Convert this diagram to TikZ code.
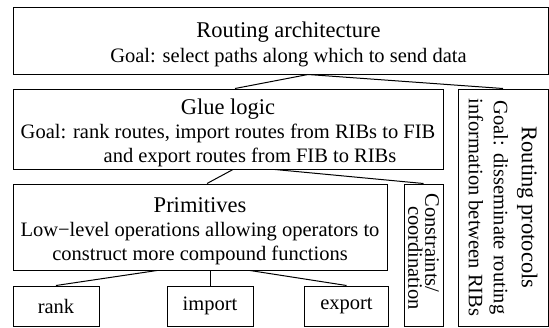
\documentclass[tikz,border=0pt]{standalone}
\usepackage{fontspec}
\setmainfont{Liberation Serif}
\newcommand{\ttl}[1]{{\fontsize{22.5}{24}\selectfont #1}}
\tikzset{
  box/.style={draw, line width=1pt, inner sep=0pt},
  txt/.style={inner sep=0pt, align=center, font=\fontsize{20.5}{24}\selectfont},
  vtext/.style={rotate=-90, inner sep=0pt, align=center, font=\fontsize{20.5}{25}\selectfont},
  link/.style={line width=1pt}
}
\begin{document}
\begin{tikzpicture}[x=1pt,y=-1pt]
\useasboundingbox (0,0) rectangle (549,327);
\node[box, minimum width=535pt, minimum height=67pt] (arch) at (280.5,40.5) {};
\node[txt] (archt) at ([yshift=-4pt]arch.center)
  {\hspace*{16pt}\ttl{Routing architecture}\\[1pt]\hspace*{16pt}Goal: select paths along which to send data};
\node[box, minimum width=430pt, minimum height=80pt] (glue) at (228,129) {};
\node[txt] (gluet) at ([yshift=-4pt]glue.center)
  {\ttl{Glue logic}\\Goal: rank routes, import routes from RIBs to FIB\\\hspace*{44pt}and export routes from FIB to RIBs};
\node[box, minimum width=90pt, minimum height=237pt] (proto) at (503,207.5) {};
\node[vtext] (protot) at (proto.center)
  {\ttl{Routing protocols}\\[3pt]Goal: disseminate routing\\information between RIBs};
\node[box, minimum width=374pt, minimum height=86pt] (prim) at (200,227) {};
\node[txt] (primt) at ([yshift=-4pt]prim.center)
  {\ttl{Primitives}\\Low−level operations allowing operators to\\construct more compound functions};
\node[box, minimum width=39pt, minimum height=142pt] (cons) at (423.5,255) {};
\node[vtext, font=\fontsize{20.5}{17}\selectfont] (const) at ([yshift=12pt]cons.center)
  {Constraints/\\\hspace*{30pt}coordination};
\node[box, txt, minimum width=86pt, minimum height=40pt] (rank) at (56,306) {rank};
\node[box, txt, minimum width=86pt, minimum height=40pt] (import) at (210,306) {import};
\node[box, txt, minimum width=84pt, minimum height=40pt] (export) at (346.5,306) {export};
\draw[link] ([xshift=7pt]glue.north) -- ([xshift=27.5pt]arch.south) -- (proto.north);
\draw[link] ([xshift=5pt]glue.south) -- ([xshift=7pt]prim.north);
\draw[link] ([xshift=47pt]glue.south) -- (cons.north);
\draw[link] ([xshift=-43pt]prim.south) -- (rank.north);
\draw[link] ([xshift=10pt]prim.south) -- (import.north);
\draw[link] ([xshift=50pt]prim.south) -- (export.north);
\end{tikzpicture}
\end{document}
